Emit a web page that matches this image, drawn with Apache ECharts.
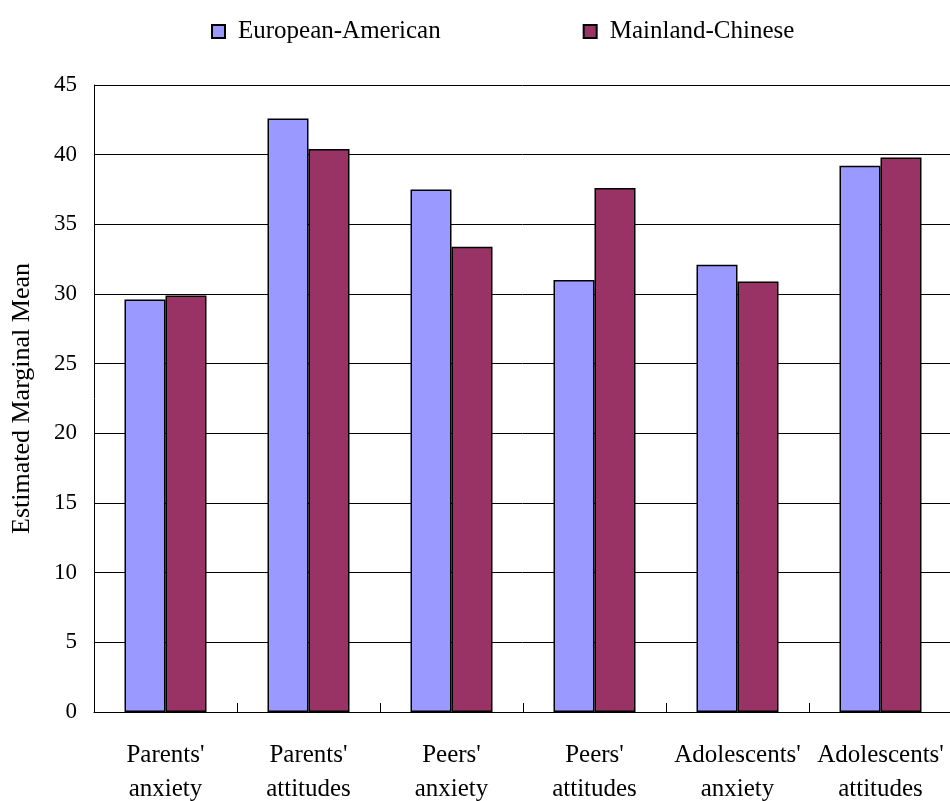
<!DOCTYPE html>
<html>
<head>
<meta charset="utf-8">
<script src="https://cdn.jsdelivr.net/npm/echarts@6/dist/echarts.min.js"></script>
<style>
  html, body { margin: 0; padding: 0; background: #fff; }
  #main { width: 950px; height: 801px; }
</style>
</head>
<body>
<div id="main"></div>
<script>
// categories along the x axis
const categories = [
  "Parents'\nanxiety",
  "Parents'\nattitudes",
  "Peers'\nanxiety",
  "Peers'\nattitudes",
  "Adolescents'\nanxiety",
  "Adolescents'\nattitudes"
];

// estimated marginal means per group
const europeanAmerican = [29.6, 42.6, 37.5, 31.0, 32.1, 39.2];
const mainlandChinese = [29.9, 40.4, 33.4, 37.6, 30.9, 39.8];

const yTicks = { min: 0, max: 45, interval: 5 };

const chart = echarts.init(document.getElementById('main'));
const font = '"Liberation Serif", "Times New Roman", serif';

const option = {
  animation: false,
  legend: {
    top: 14,
    left: 206,
    itemWidth: 13,
    itemHeight: 13,
    itemGap: 142,
    icon: 'rect',
    textStyle: { fontFamily: font, fontSize: 25, color: '#000', padding: [0, 0, 0, 8] },
    data: ['European-American', 'Mainland-Chinese']
  },
  grid: {
    left: 94, right: -2, top: 85, bottom: 89,
    containLabel: false,
    outerBoundsMode: 'none'
  },
  xAxis: {
    type: 'category',
    data: categories,
    axisLine: { show: true, lineStyle: { color: '#000', width: 1 } },
    axisTick: { show: true, inside: true, length: 9, lineStyle: { color: '#000', width: 1 } },
    axisLabel: {
      fontFamily: font, fontSize: 25, color: '#000',
      lineHeight: 34, margin: 26, interval: 0
    }
  },
  yAxis: {
    type: 'value',
    min: yTicks.min,
    max: yTicks.max,
    interval: yTicks.interval,
    name: 'Estimated Marginal Mean',
    nameLocation: 'middle',
    nameGap: 59,
    nameTextStyle: { fontFamily: font, fontSize: 26, color: '#000' },
    axisLine: { show: true, lineStyle: { color: '#000', width: 1 } },
    axisTick: { show: false },
    axisLabel: { fontFamily: font, fontSize: 23, color: '#000', margin: 17 },
    splitLine: { show: true, lineStyle: { color: '#000', width: 1 } }
  },
  series: [
    {
      name: 'European-American',
      type: 'bar',
      data: europeanAmerican,
      barWidth: 41,
      barGap: '0%',
      itemStyle: { color: '#9999FF', borderColor: '#000', borderWidth: 1.5 }
    },
    {
      name: 'Mainland-Chinese',
      type: 'bar',
      data: mainlandChinese,
      barWidth: 41,
      itemStyle: { color: '#993366', borderColor: '#000', borderWidth: 1.5 }
    }
  ]
};

chart.setOption(option);
</script>
</body>
</html>
